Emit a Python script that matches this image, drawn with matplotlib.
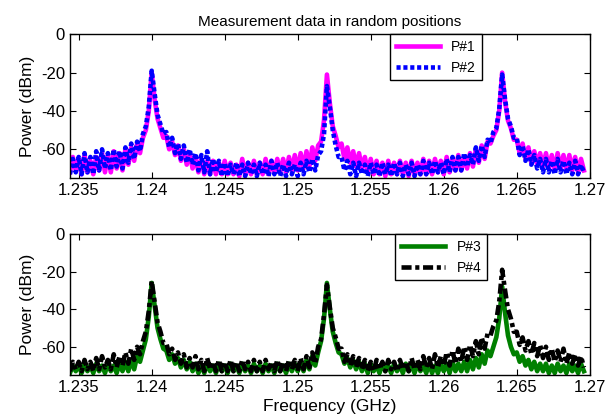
import numpy as np
import matplotlib
matplotlib.use("Agg")
import matplotlib.pyplot as plt

plt.rcParams['font.family'] = ['Liberation Sans', 'DejaVu Sans']
plt.rcParams['axes.unicode_minus'] = False

# analyzer sweep: 1234.4 .. 1269.6 MHz, 0.2 MHz per point
freq = np.linspace(1.2344, 1.2696, 177)

# power traces (dBm), 10 points (2 MHz) per row
p1 = [-72, -64, -71,
      -65, -73, -63, -72, -66, -73, -64, -71, -62, -72,
      -63, -72, -61, -70, -62, -71, -60, -68, -59, -66,
      -57, -62, -54, -50, -40, -20, -34, -44, -49, -54,
      -53, -60, -56, -63, -58, -66, -60, -68, -62, -70,
      -64, -72, -65, -73, -66, -73, -66, -73, -67, -73,
      -66, -73, -67, -73, -68, -74, -65, -73, -67, -73,
      -66, -73, -67, -73, -65, -73, -66, -72, -65, -72,
      -65, -72, -64, -71, -63, -71, -62, -70, -61, -69,
      -59, -66, -58, -56, -45, -21, -36, -48, -53, -59,
      -57, -65, -59, -67, -61, -69, -62, -70, -64, -72,
      -65, -73, -66, -73, -67, -74, -66, -73, -67, -73,
      -66, -73, -67, -74, -66, -73, -67, -73, -65, -73,
      -66, -73, -65, -72, -66, -73, -64, -72, -65, -71,
      -63, -71, -64, -70, -62, -69, -60, -67, -58, -65,
      -56, -57, -53, -50, -40, -20, -35, -45, -49, -55,
      -55, -62, -57, -65, -59, -67, -61, -68, -62, -69,
      -62, -70, -63, -71, -62, -70, -63, -71, -63, -71,
      -64, -72, -65, -71]

p2 = [-73, -65, -72,
      -64, -73, -62, -72, -64, -73, -61, -71, -60, -70,
      -62, -71, -60, -69, -61, -70, -59, -67, -57, -65,
      -56, -61, -52, -48, -38, -19, -31, -42, -47, -52,
      -51, -59, -54, -62, -57, -65, -58, -67, -60, -68,
      -62, -71, -63, -72, -61, -73, -65, -72, -66, -74,
      -67, -74, -68, -73, -67, -74, -68, -74, -67, -73,
      -68, -74, -67, -73, -68, -74, -66, -73, -67, -74,
      -68, -74, -67, -73, -68, -74, -67, -73, -66, -72,
      -65, -71, -63, -61, -52, -27, -38, -50, -58, -64,
      -64, -71, -66, -73, -67, -74, -67, -73, -68, -74,
      -67, -73, -68, -74, -67, -73, -68, -74, -67, -73,
      -67, -74, -68, -73, -67, -74, -68, -73, -66, -73,
      -67, -73, -66, -72, -67, -73, -65, -72, -64, -71,
      -64, -71, -62, -69, -63, -68, -59, -66, -58, -64,
      -55, -57, -51, -49, -39, -21, -34, -44, -48, -54,
      -54, -63, -58, -66, -60, -68, -63, -70, -65, -72,
      -65, -72, -66, -73, -65, -72, -66, -73, -67, -73,
      -66, -73, -68, -72]

p3 = [-74, -70, -73,
      -70, -74, -69, -73, -70, -74, -69, -73, -70, -74,
      -69, -73, -70, -74, -69, -73, -68, -73, -67, -72,
      -65, -68, -62, -56, -44, -26, -38, -50, -56, -61,
      -62, -67, -64, -69, -66, -71, -67, -72, -68, -73,
      -69, -74, -70, -74, -69, -73, -70, -74, -69, -73,
      -70, -74, -69, -73, -70, -74, -69, -73, -70, -74,
      -69, -73, -70, -74, -69, -73, -70, -74, -69, -73,
      -70, -74, -69, -73, -69, -73, -68, -73, -67, -72,
      -65, -70, -63, -57, -45, -26, -40, -52, -58, -63,
      -64, -69, -66, -71, -67, -72, -68, -73, -69, -74,
      -69, -73, -70, -74, -69, -73, -70, -74, -69, -73,
      -70, -74, -69, -73, -70, -74, -69, -73, -70, -74,
      -69, -74, -70, -74, -69, -73, -69, -74, -68, -73,
      -69, -73, -68, -73, -67, -72, -66, -71, -64, -69,
      -62, -65, -60, -55, -45, -28, -42, -54, -60, -64,
      -63, -68, -65, -70, -67, -72, -68, -73, -69, -73,
      -69, -74, -70, -74, -69, -73, -70, -74, -69, -73,
      -70, -74, -69, -73]

p4 = [-73, -68, -72,
      -68, -73, -67, -72, -68, -73, -66, -72, -65, -71,
      -67, -72, -64, -71, -65, -70, -63, -69, -61, -67,
      -60, -64, -57, -52, -41, -25, -36, -47, -52, -58,
      -58, -64, -61, -67, -63, -69, -64, -71, -66, -71,
      -65, -72, -67, -73, -66, -72, -68, -73, -67, -73,
      -68, -73, -67, -73, -68, -73, -67, -72, -68, -73,
      -67, -73, -68, -73, -67, -72, -68, -73, -67, -73,
      -68, -73, -67, -72, -67, -73, -66, -72, -65, -71,
      -63, -69, -60, -56, -43, -27, -39, -50, -55, -61,
      -61, -68, -64, -70, -65, -71, -66, -72, -67, -73,
      -68, -73, -67, -72, -68, -73, -67, -72, -68, -73,
      -67, -72, -68, -73, -66, -72, -67, -72, -65, -71,
      -66, -72, -64, -71, -65, -70, -63, -70, -62, -69,
      -61, -68, -60, -67, -59, -65, -57, -64, -55, -61,
      -53, -54, -49, -46, -36, -19, -30, -40, -45, -52,
      -52, -59, -55, -62, -57, -64, -58, -65, -59, -66,
      -60, -67, -61, -68, -62, -68, -61, -69, -63, -69,
      -64, -70, -65, -71]

xticks = [1.235, 1.24, 1.245, 1.25, 1.255, 1.26, 1.265, 1.27]
xticklabels = ['1.235', '1.24', '1.245', '1.25', '1.255', '1.26', '1.265', '1.27']
yticks = [0, -20, -40, -60]

fig = plt.figure(figsize=(6.08, 4.18), dpi=100)
ax1 = fig.add_axes([0.115, 0.574, 0.855, 0.344])
ax2 = fig.add_axes([0.115, 0.103, 0.855, 0.337])

ax1.plot(freq, p1, color='#ff00ff', lw=3.3, label='P#1')
ax1.plot(freq, p2, color='#0000ff', lw=3.3, ls=(0, (0.9, 0.6)), label='P#2')
ax2.plot(freq, p3, color='#008000', lw=3.3, label='P#3')
ax2.plot(freq, p4, color='black', lw=3.3, ls=(0, (2.2, 0.8, 0.9, 0.8)), label='P#4')

for ax, lx in [(ax1, 0.792), (ax2, 0.802)]:
    ax.set_xlim(1.2344, 1.2700)
    ax.set_ylim(-75, 0)
    ax.set_xticks(xticks)
    ax.set_xticklabels(xticklabels)
    ax.set_yticks(yticks)
    ax.tick_params(direction='in', top=True, right=True, length=4,
                   labelsize=12, width=0.8)
    ax.set_ylabel('Power (dBm)', fontsize=12.5)
    for s in ax.spines.values():
        s.set_linewidth(1.0)
    leg = ax.legend(loc='upper right', bbox_to_anchor=(lx, 1.0),
                    borderaxespad=0, fancybox=False, framealpha=1,
                    edgecolor='black', fontsize=10, handlelength=3.2)
    leg.get_frame().set_linewidth(1.0)

ax1.set_title('Measurement data in random positions', fontsize=11)
ax2.set_xlabel('Frequency (GHz)', fontsize=12.5, labelpad=3)

fig.savefig('out.png', dpi=100)
